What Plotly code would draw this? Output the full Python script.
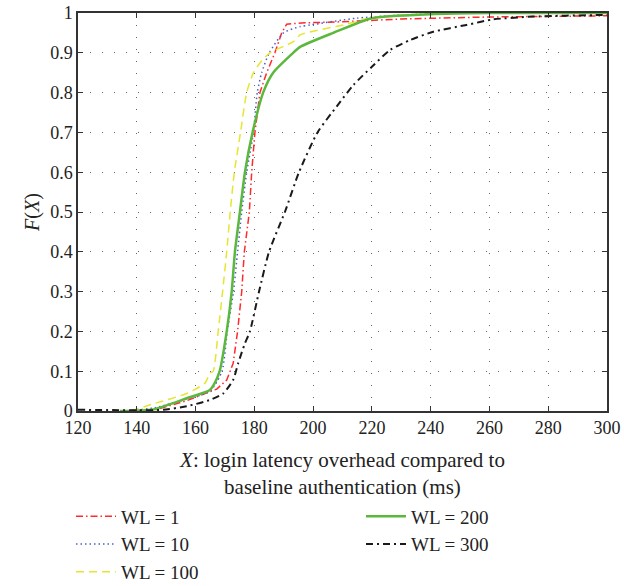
import plotly.graph_objects as go

# WL = 1 (red, dash-dot)
red_x = [138, 146.8, 157, 164, 167.2, 170.6, 172.8, 174.3, 175.7, 176.6, 178.3, 179.1, 180.2, 181.9, 184.2, 187, 189.3, 191, 196, 210, 230, 260, 300]
red_y = [0, 0.004, 0.026, 0.045, 0.055, 0.078, 0.12, 0.2, 0.3, 0.4, 0.5, 0.6, 0.7, 0.8, 0.85, 0.9, 0.95, 0.972, 0.975, 0.978, 0.985, 0.99, 0.993]

# WL = 10 (blue, dotted)
blue_x = [137, 146, 157, 165, 169, 170.8, 172.9, 174.3, 175.7, 177.4, 179.7, 181, 182.5, 185.1, 189.9, 195.6, 199, 214.8, 240, 300]
blue_y = [0, 0.008, 0.03, 0.05, 0.1, 0.2, 0.3, 0.4, 0.5, 0.6, 0.7, 0.8, 0.85, 0.9, 0.95, 0.966, 0.97, 0.987, 0.998, 1.0]

# WL = 100 (yellow, dashed)
yel_x = [138, 145.6, 157, 163.2, 164.9, 166, 167.7, 169.2, 170.6, 171.8, 173.2, 175.3, 177.4, 179.7, 182.5, 185.3, 193.3, 195.6, 210.3, 220.5, 240, 300]
yel_y = [0, 0.018, 0.044, 0.07, 0.095, 0.1, 0.2, 0.3, 0.4, 0.5, 0.6, 0.7, 0.8, 0.85, 0.88, 0.9, 0.928, 0.945, 0.97, 0.989, 0.998, 1.0]

# WL = 200 (green, solid)
grn_x = [134.3, 145.6, 157, 164.9, 166.5, 168.2, 170.6, 172.3, 173.4, 175.1, 176.8, 179.4, 183.0, 186.4, 193.2, 195.6, 206.8, 220, 239.8, 260, 300]
grn_y = [0, 0.004, 0.032, 0.053, 0.07, 0.1, 0.2, 0.3, 0.4, 0.5, 0.6, 0.7, 0.8, 0.85, 0.9, 0.915, 0.95, 0.987, 0.997, 1.0, 1.0]

# WL = 300 (black, dash-dot)
blk_x = [120, 140, 149, 157, 165, 169.4, 172.8, 174.5, 176.8, 178.5, 181.6, 185, 190.4, 195.2, 201.5, 208, 213.7, 220, 226.2, 233, 240.9, 252.2, 261.3, 275, 297.6, 300]
blk_y = [0.003, 0.002, 0.003, 0.012, 0.028, 0.044, 0.078, 0.12, 0.17, 0.2, 0.3, 0.4, 0.5, 0.6, 0.7, 0.765, 0.819, 0.865, 0.907, 0.932, 0.953, 0.97, 0.984, 0.991, 0.995, 0.995]

FONT = "Liberation Serif"

fig = go.Figure()
fig.add_trace(go.Scatter(x=red_x, y=red_y, mode="lines", name="WL = 1",
                         line=dict(color="#ff2a2a", width=1.5, dash="7px,3px,1.5px,3px"), legend="legend"))
fig.add_trace(go.Scatter(x=blue_x, y=blue_y, mode="lines", name="WL = 10",
                         line=dict(color="#4a5ec8", width=1.5, dash="1.5px,3px", shape="spline", smoothing=0.6),
                         legend="legend"))
fig.add_trace(go.Scatter(x=yel_x, y=yel_y, mode="lines", name="WL = 100",
                         line=dict(color="#e6e630", width=1.5, dash="8px,5px", shape="spline", smoothing=0.6),
                         legend="legend"))
fig.add_trace(go.Scatter(x=grn_x, y=grn_y, mode="lines", name="WL = 200",
                         line=dict(color="#5cb83c", width=2.5, shape="spline", smoothing=0.6), legend="legend2"))
fig.add_trace(go.Scatter(x=blk_x, y=blk_y, mode="lines", name="WL = 300",
                         line=dict(color="#1a1a1a", width=2, dash="7px,4px,2px,4px", shape="spline", smoothing=0.6),
                         legend="legend2"))

axis_common = dict(
    showline=True, linecolor="#333333", linewidth=1.5, mirror="ticks",
    ticks="inside", ticklen=5, tickcolor="#333333",
    showgrid=True, gridcolor="#666666", gridwidth=1, griddash="1px,11px",
    zeroline=False, tickfont=dict(family=FONT, size=18, color="#222222"),
    ticklabeloverflow="allow",
)

fig.update_xaxes(range=[120, 300], dtick=20, tick0=120,
                 title=dict(text="<i>X</i>: login latency overhead compared to<br>baseline authentication (ms)",
                            font=dict(family=FONT, size=21, color="#222222")),
                 **axis_common)
fig.update_yaxes(range=[0, 1], dtick=0.1, tick0=0, **axis_common)

legend_common = dict(font=dict(family=FONT, size=19, color="#222222"), bgcolor="rgba(0,0,0,0)",
                     orientation="v", xanchor="left", yanchor="top", tracegroupgap=0, itemwidth=40,
                     xref="container", yref="container")
fig.update_layout(
    width=624, height=586,
    margin=dict(l=78, r=17, t=13, b=175, autoexpand=False),
    paper_bgcolor="white", plot_bgcolor="white",
    showlegend=True,
    legend=dict(x=0.1138, y=0.151, **legend_common),
    legend2=dict(x=0.5785, y=0.151, **legend_common),
    annotations=[dict(text="<i>F</i>(<i>X</i>)", textangle=-90, xref="paper", yref="paper",
                      x=-0.087, y=0.5, xanchor="center", yanchor="middle", showarrow=False,
                      font=dict(family=FONT, size=20, color="#222222"))],
)

fig.write_html("out.html", config={"displayModeBar": False},
               post_script="document.body.style.margin='0px';")
